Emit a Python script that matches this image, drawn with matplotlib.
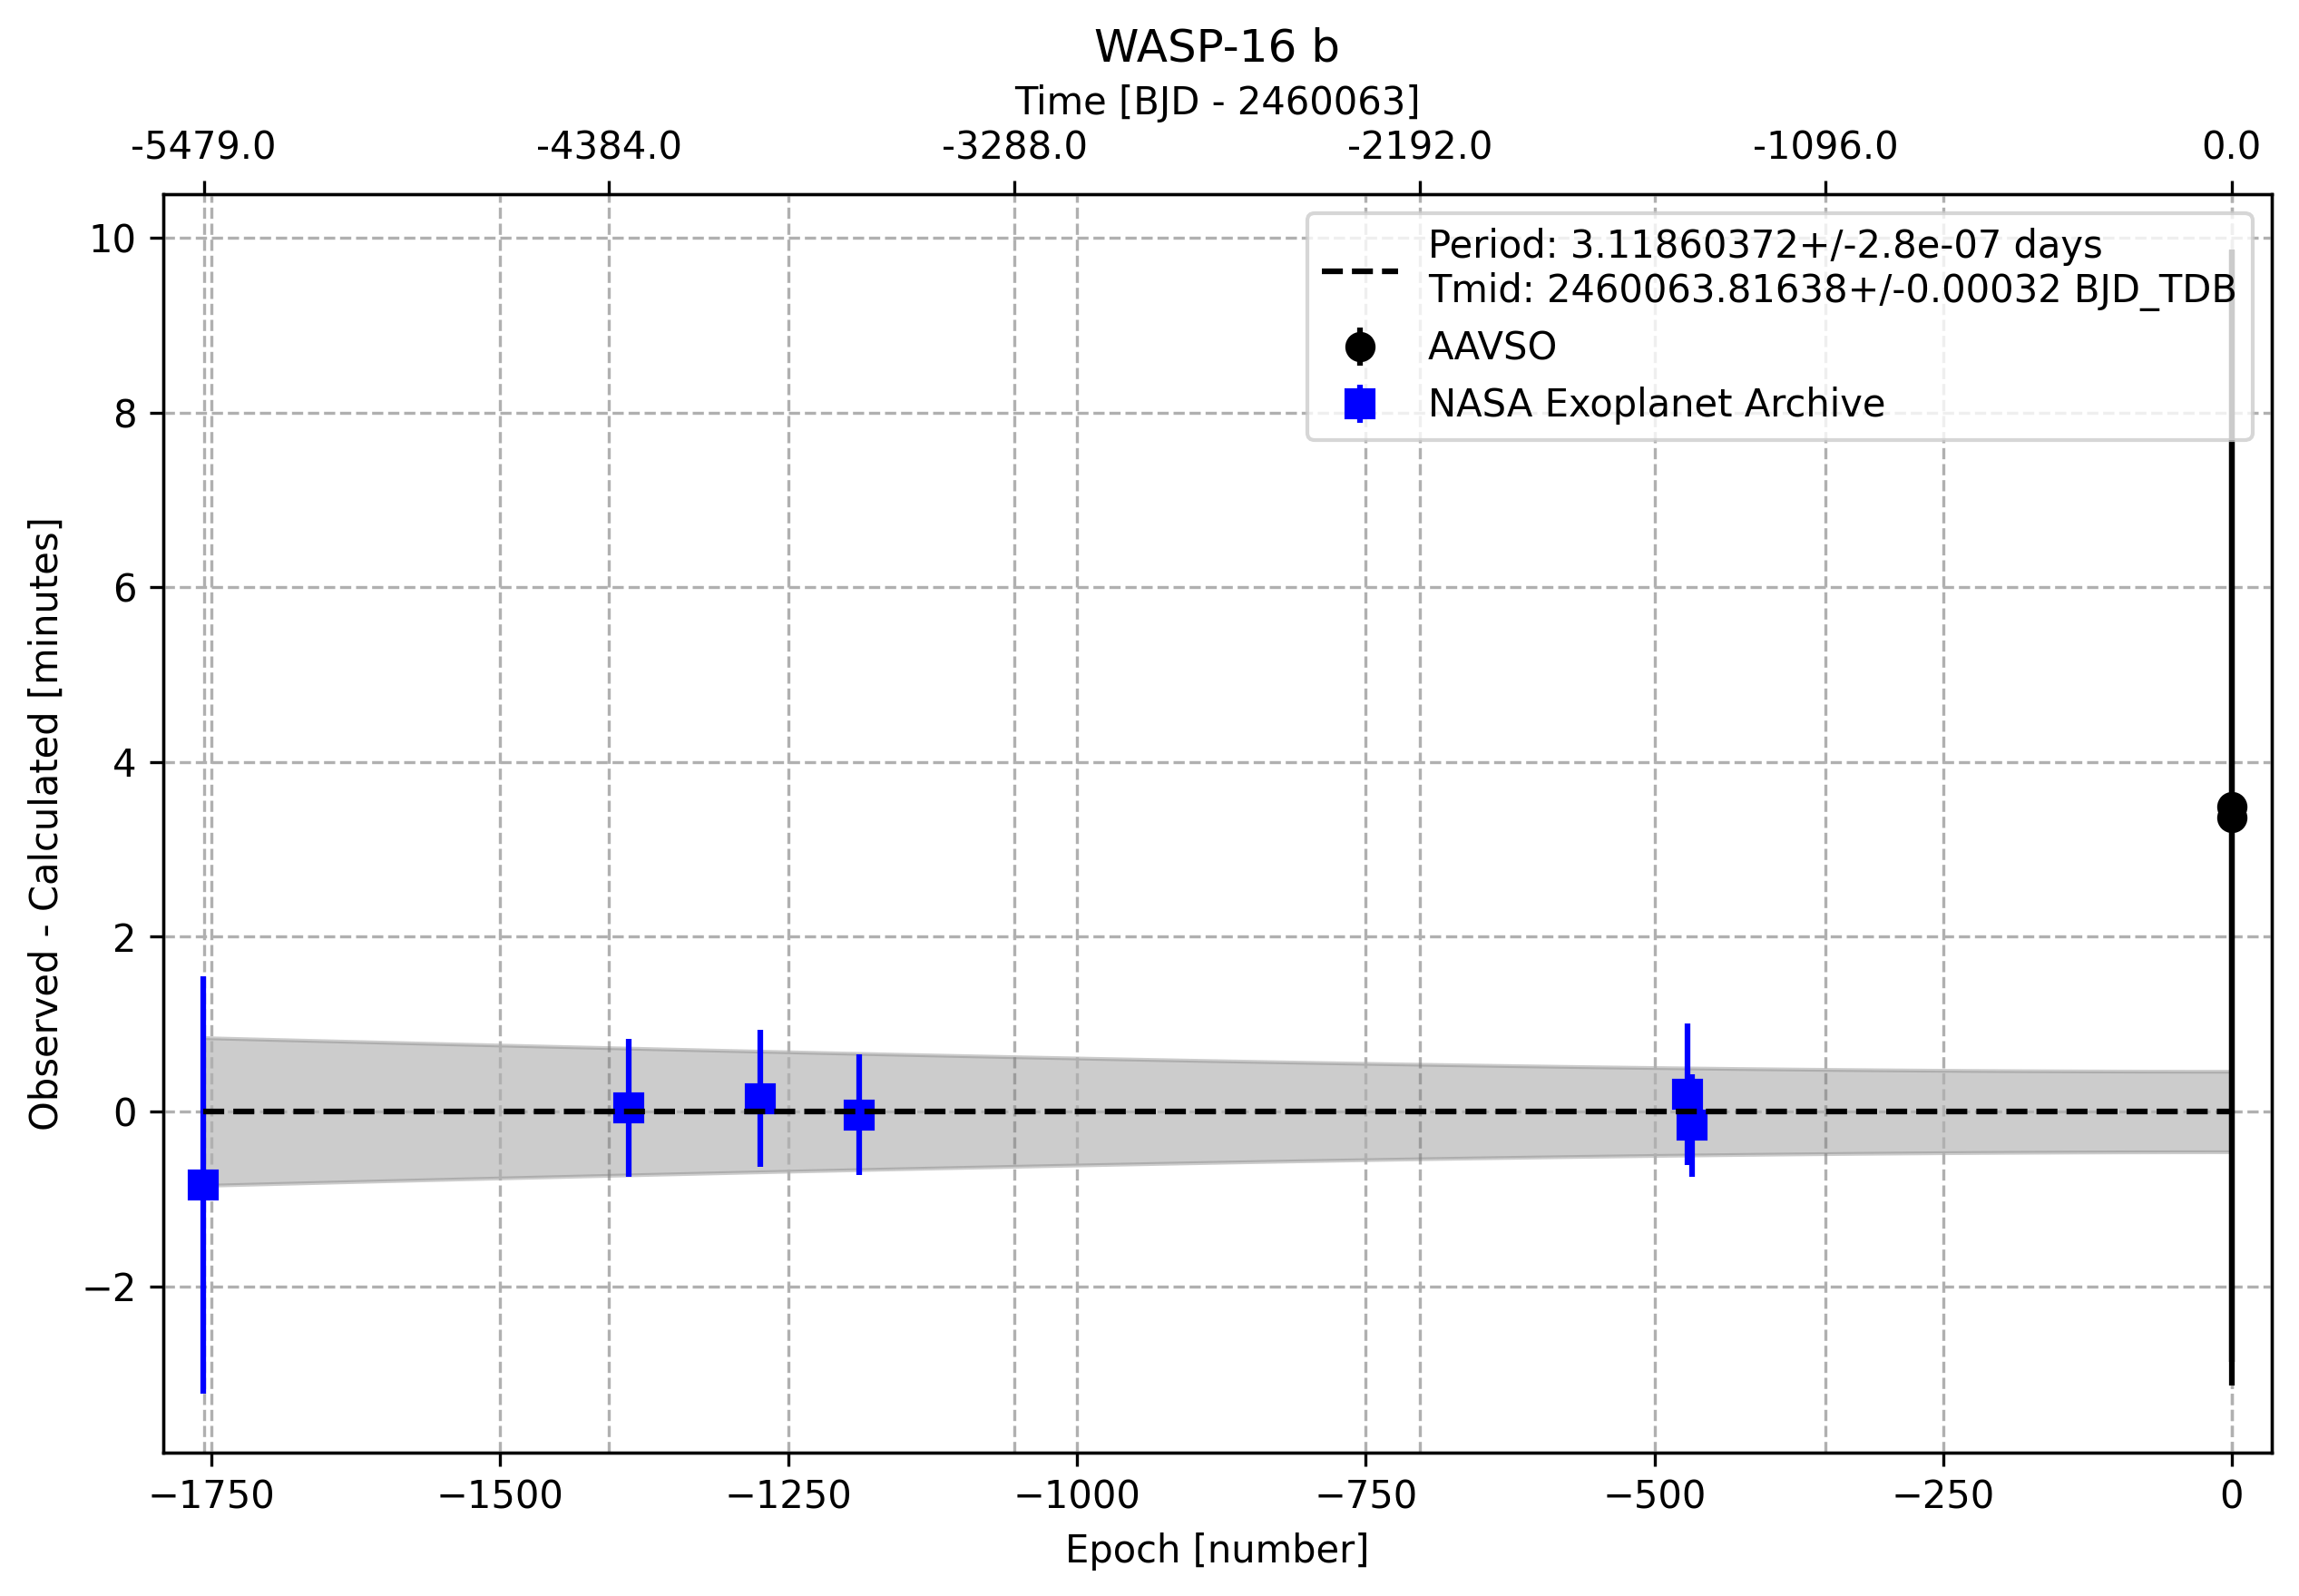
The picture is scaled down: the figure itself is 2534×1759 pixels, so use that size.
import numpy as np
import matplotlib.pyplot as plt

# ephemeris fit (from the legend)
planet = "WASP-16 b"
period, period_err = 3.11860372, 2.8e-07
tmid, tmid_err = 2460063.81638, 0.00032

# NASA Exoplanet Archive transits: epoch, O-C [min], error [min]
nasa_epoch = [-1757, -1389, -1275, -1189, -471, -467]
nasa_oc = [-0.84, 0.04, 0.15, -0.04, 0.20, -0.16]
nasa_err = [2.39, 0.79, 0.78, 0.69, 0.81, 0.59]

# AAVSO transits
aavso_epoch = [0, 0]
aavso_oc = [3.49, 3.36]
aavso_err = [6.36, 6.50]

# labels of the upper time axis [BJD - 2460063]
time_ticks = [-5479.0, -4384.0, -3288.0, -2192.0, -1096.0, 0.0]

fig, ax = plt.subplots(figsize=(2534 / 300, 1759 / 300), dpi=300)
fig.subplots_adjust(left=0.071, right=0.988, bottom=0.090, top=0.8785)

ax.errorbar(aavso_epoch, aavso_oc, yerr=aavso_err, fmt='ko', ms=7,
            label='AAVSO', zorder=2)
ax.errorbar(nasa_epoch, nasa_oc, yerr=nasa_err, fmt='bs', ms=7,
            label='NASA Exoplanet Archive', zorder=2)

# ephemeris uncertainty band
epochs = np.linspace(min(nasa_epoch), 0, 300)
band = np.sqrt(tmid_err**2 + (epochs * period_err)**2) * 24 * 60
ax.fill_between(epochs, -band, band, color='gray', alpha=0.4, zorder=1)
ax.plot(epochs, np.zeros_like(epochs), 'k--', zorder=3,
        label=f"Period: {period}+/-{period_err} days\n"
              f"Tmid: {tmid}+/-{tmid_err} BJD_TDB")

ax.set_xlim(-1792, 34.6)
ax.set_ylim(-3.9, 10.5)
ax.set_xlabel("Epoch [number]")
ax.set_ylabel("Observed - Calculated [minutes]")
ax.grid(True, ls='--')
ax.legend(loc='upper right')
ax.set_title(planet)

# upper axis in time, kept underneath the data
ax2 = ax.twiny()
ax2.set_xlim(ax.get_xlim())
ax2.set_xticks(np.array(time_ticks) / period)
ax2.set_xticklabels([f"{t:.1f}" for t in time_ticks])
ax2.set_xlabel(f"Time [BJD - {int(tmid)}]")
ax2.grid(True, axis='x', ls='--')
ax.set_zorder(ax2.get_zorder() + 1)
ax.patch.set_visible(False)

fig.savefig("out.png", dpi=300)
